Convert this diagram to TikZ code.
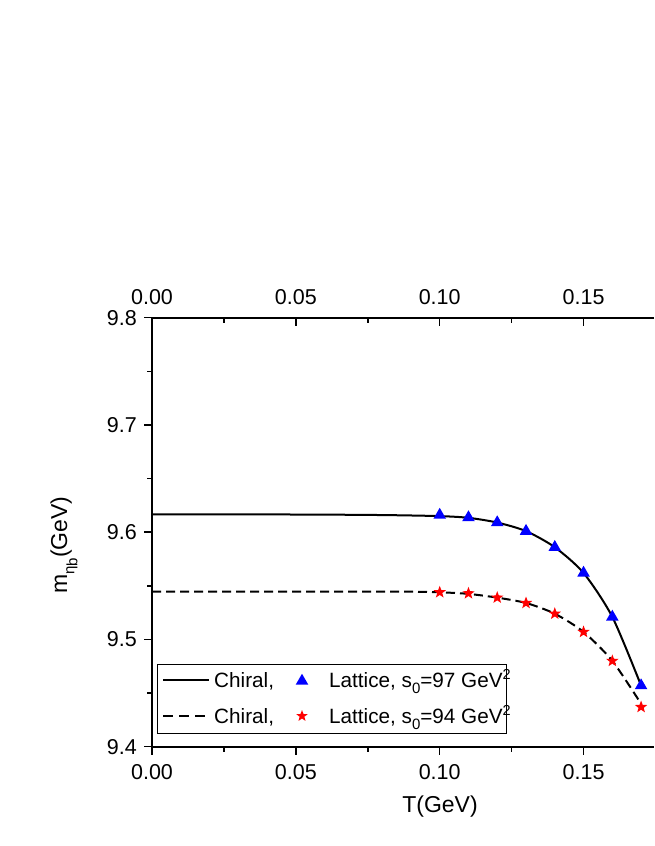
\documentclass[tikz,border=0pt]{standalone}
\usepackage{fontspec}
\setmainfont{Liberation Sans}
\usetikzlibrary{shapes.geometric}
\newcommand{\mysub}[1]{\raisebox{-0.32em}{\fontsize{15}{15}\selectfont #1}}
\begin{document}
\begin{tikzpicture}[x=1pt,y=-1pt,
  tri/.style={regular polygon, regular polygon sides=3, fill=blue, draw=none, inner sep=0pt, minimum size=14.5pt},
  str/.style={star, star points=5, star point ratio=2.4, fill=red, draw=none, inner sep=0pt, minimum size=13pt},
  ticklab/.style={font=\fontsize{21.5}{24}\selectfont, inner sep=0pt},
  leglab/.style={font=\fontsize{20.7}{24}\selectfont, inner sep=0pt, anchor=base west},
  titlab/.style={font=\fontsize{23}{26}\selectfont, inner sep=0pt},
  axisline/.style={line width=1.8pt},
  tickline/.style={line width=1.5pt},
  curve/.style={line width=2pt, line join=round},
  dashcurve/.style={curve, dash pattern=on 9pt off 5pt}]
\useasboundingbox (0,0) rectangle (654,846);
% axes
\coordinate (tl) at (152,317.7);
\coordinate (bl) at (152,746.7);
\coordinate (tr) at (654,317.7);
\coordinate (br) at (654,746.7);
\draw[axisline] (tr) -- (tl) -- (bl) -- (br);
% x ticks
\foreach \xx/\lab in {152/0.00, 295.85/0.05, 439.7/0.10, 583.55/0.15} {
  \draw[tickline] (\xx,746.7) -- (\xx,754.7);
  \draw[tickline] (\xx,317.7) -- (\xx,325.7);
  \node[ticklab] at (\xx,772) {\lab};
  \node[ticklab] at (\xx,297) {\lab};
}
\foreach \xx in {223.9, 367.8, 511.6} {
  \draw[tickline] (\xx,746.7) -- (\xx,751.7);
  \draw[tickline] (\xx,317.7) -- (\xx,322.7);
}
% y ticks
\foreach \yy/\lab in {317.7/9.8, 424.95/9.7, 532.2/9.6, 639.45/9.5, 746.7/9.4} {
  \draw[tickline] (152,\yy) -- (144,\yy);
  \node[ticklab, anchor=east] at (137,\yy) {\lab};
}
\foreach \yy in {371.3, 478.6, 585.9, 693.1} {
  \draw[tickline] (152,\yy) -- (147,\yy);
}
% axis titles
\node[titlab] (xt) at (440,807) {T(GeV)};
\node[titlab, rotate=90] (yt) at (64,545) {m\mysub{η\raisebox{-0.2em}{b}}(GeV)};
% data
\begin{scope}[shift={(152,317.7)}, x=2877pt, y=-1072.5pt]
\draw[curve] plot[smooth, tension=0.45] coordinates {(0,0.1834) (0.05,0.1835) (0.08,0.1840) (0.10,0.1850) (0.11,0.1866) (0.12,0.1910) (0.13,0.1990) (0.14,0.2140) (0.15,0.2380) (0.16,0.2790) (0.17,0.3430)};
\draw[dashcurve] plot[smooth, tension=0.45] coordinates {(0,0.2553) (0.05,0.2553) (0.09,0.2555) (0.10,0.2560) (0.11,0.2575) (0.12,0.2610) (0.13,0.2660) (0.14,0.2760) (0.15,0.2930) (0.16,0.3200) (0.17,0.3600)};
\foreach \t/\d [count=\i] in {0.10/0.184, 0.11/0.1863, 0.12/0.191, 0.13/0.199, 0.14/0.214, 0.15/0.238, 0.16/0.279, 0.17/0.343}
  \node[tri] (t\i) at (\t,\d) {};
\foreach \t/\d [count=\i] in {0.10/0.256, 0.11/0.257, 0.12/0.261, 0.13/0.266, 0.14/0.276, 0.15/0.293, 0.16/0.320, 0.17/0.363}
  \node[str] (s\i) at (\t,\d) {};
\end{scope}
% legend
\draw[line width=1pt, fill=white] (157,664) rectangle (506,733);
\coordinate (l1a) at (163,680);
\coordinate (l1b) at (209,680);
\coordinate (l2a) at (163,716);
\coordinate (l2b) at (209,716);
\draw[curve] (l1a) -- (l1b);
\draw[dashcurve, dash pattern=on 10pt off 6pt] (l2a) -- (l2b);
\node[leglab] (c1) at (214,687) {Chiral,};
\node[leglab] (c2) at (214,723) {Chiral,};
\node[tri] (lt) at (302,681) {};
\node[str, minimum size=12pt] (ls) at (302,716) {};
\node[leglab] (la1) at (329,687) {Lattice, s\mysub{0}=97 GeV\textsuperscript{2}};
\node[leglab] (la2) at (329,723) {Lattice, s\mysub{0}=94 GeV\textsuperscript{2}};
\end{tikzpicture}
\end{document}
